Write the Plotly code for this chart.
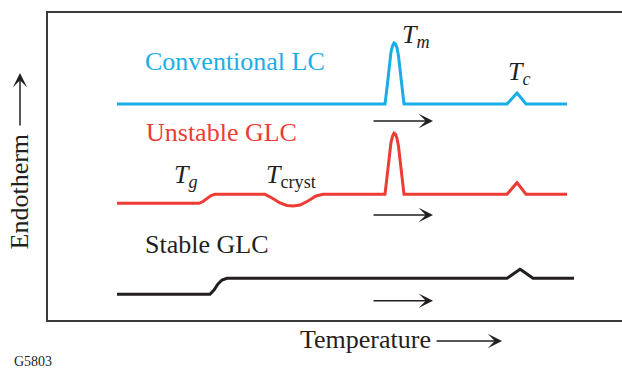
import plotly.graph_objects as go

# Schematic DSC thermograms (arbitrary units: temperature on x, heat flow on y)
conv_T = [117, 385, 386.5, 388, 389.5, 391, 392.5, 394, 395.5, 397, 398.5, 400, 401.5, 403, 404,
          507, 512, 517, 522, 526, 567]
conv_H = [268, 268, 280, 296, 310, 320, 326, 329, 328, 324, 316, 304, 290, 275, 268,
          268, 273, 279, 273, 268, 268]

unst_T = [117, 199, 203, 207, 211, 215, 265, 272, 280, 287, 293, 300, 308, 316, 323,
          385, 386.5, 388, 389.5, 391, 392.5, 394, 395.5, 397, 398.5, 400, 401.5, 403, 404,
          507, 512, 517, 522, 526, 567]
unst_H = [168.7, 168.7, 170.5, 173.5, 176.5, 177.7, 177.7, 174, 169, 166.5, 166, 167, 171, 176, 177.7,
          177.7, 189.7, 205.7, 219.7, 229.7, 235.7, 238.7, 237.7, 233.7, 225.7, 213.7, 199.7, 184.7, 177.7,
          177.7, 183, 189.3, 183, 177.7, 177.7]

stab_T = [117, 210, 214, 218, 222, 227, 507, 514, 518, 520, 522, 526, 533, 574]
stab_H = [77.7, 77.7, 82, 88, 92, 93.7, 93.7, 98.5, 101.5, 102.7, 101.5, 98.5, 93.7, 93.7]

series_names = ["Conventional LC", "Unstable GLC", "Stable GLC"]
series_colors = ["#1AADE6", "#EE3B34", "#231F20"]

# heating-direction arrows: (tail T, head T, level)
arrow_tail = [372, 372, 372]
arrow_head = [433, 433, 433]
arrow_level = [251, 157, 71.3]

X_RANGE = [48, 622]
Y_RANGE = [52, 359]

FONT = "Liberation Serif"
TXT = "#231F20"

fig = go.Figure()
for T, H, name, col in zip([conv_T, unst_T, stab_T], [conv_H, unst_H, stab_H],
                           series_names, series_colors):
    fig.add_trace(go.Scatter(x=T, y=H, mode="lines", name=name,
                             line=dict(color=col, width=3), showlegend=False,
                             hoverinfo="skip"))

ann = []
# series labels
label_pos = [(235, 311), (221, 239.5), (206.5, 127.5)]
for name, col, (lx, ly) in zip(series_names, series_colors, label_pos):
    ann.append(dict(x=lx, y=ly, xref="x", yref="y", text=name, showarrow=False,
                    font=dict(family=FONT, size=26, color=col if col != "#231F20" else TXT),
                    xanchor="center", yanchor="middle"))

# transition labels
trans = [("<i>T</i><sub><i>m</i></sub>", 400, 336),
         ("<i>T</i><sub><i>c</i></sub>", 506, 299),
         ("<i>T</i><sub><i>g</i></sub>", 172, 196),
         ("<i>T</i><sub>cryst</sub>", 264, 196)]
for t, tx, ty in trans:
    ann.append(dict(x=tx, y=ty, xref="x", yref="y", text=t, showarrow=False,
                    font=dict(family=FONT, size=26, color=TXT),
                    xanchor="left", yanchor="middle"))

# heating arrows
for t0, t1, lv in zip(arrow_tail, arrow_head, arrow_level):
    ann.append(dict(x=t1, y=lv, ax=t0, ay=lv, xref="x", yref="y", axref="x", ayref="y",
                    text="", showarrow=True, arrowhead=3, arrowsize=1.6, arrowwidth=1.5,
                    arrowcolor=TXT, standoff=0))

# axis captions (outside plot area, paper coords)
ann.append(dict(x=-0.0488, y=0.4186, xref="paper", yref="paper", text="Endotherm",
                textangle=-90, showarrow=False, font=dict(family=FONT, size=26, color=TXT),
                xanchor="center", yanchor="middle"))
ann.append(dict(x=-0.0488, y=0.8046, xref="paper", yref="paper", text="", showarrow=True,
                ax=0, ay=54, arrowhead=3, arrowsize=1.6, arrowwidth=1.5, arrowcolor=TXT,
                standoff=0))
ann.append(dict(x=0.554, y=-0.065, xref="paper", yref="paper", text="Temperature",
                showarrow=False, font=dict(family=FONT, size=26, color=TXT),
                xanchor="center", yanchor="middle"))
ann.append(dict(x=0.791, y=-0.0684, xref="paper", yref="paper", text="", showarrow=True,
                ax=-67, ay=0, arrowhead=3, arrowsize=1.6, arrowwidth=1.5, arrowcolor=TXT,
                standoff=0))
ann.append(dict(x=-0.0261, y=-0.135, xref="paper", yref="paper", text="G5803",
                showarrow=False, font=dict(family=FONT, size=14, color=TXT),
                xanchor="center", yanchor="middle"))

fig.update_layout(
    width=622, height=372,
    margin=dict(l=48, r=0, t=13, b=52),
    paper_bgcolor="white", plot_bgcolor="white",
    annotations=ann,
    xaxis=dict(range=X_RANGE, showgrid=False, zeroline=False, showticklabels=False,
               ticks="", showline=True, mirror=True, linecolor="#3A3A3A", linewidth=2),
    yaxis=dict(range=Y_RANGE, showgrid=False, zeroline=False, showticklabels=False,
               ticks="", showline=True, mirror=False, linecolor="#3A3A3A", linewidth=2),
)

fig.write_html("out.html")
